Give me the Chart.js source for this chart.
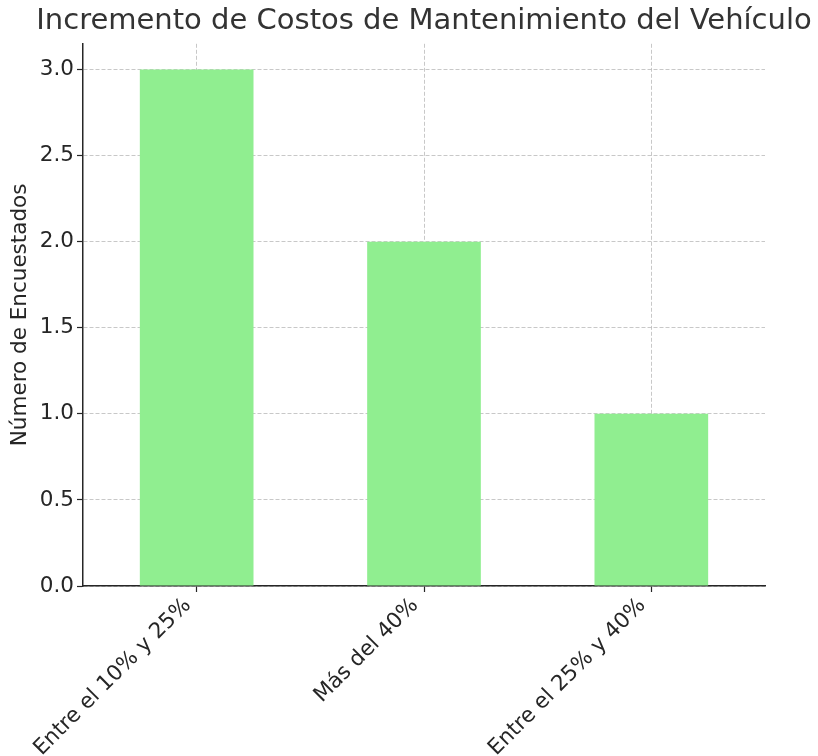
<!DOCTYPE html>
<html>
<head>
<meta charset="utf-8">
<script src="https://cdn.jsdelivr.net/npm/chart.js@4"></script>
<style>
  html, body { margin: 0; padding: 0; background: #fff; }
  #wrap { width: 818px; height: 756px; }
</style>
</head>
<body>
<div id="wrap"><canvas id="costChart" width="818" height="756"></canvas></div>
<script>
const categories = ['Entre el 10% y 25%', 'Más del 40%', 'Entre el 25% y 40%'];
const respondents = [3, 2, 1];
const yTicks = [0, 0.5, 1, 1.5, 2, 2.5, 3];

const gridColor = 'rgba(176,176,176,0.7)';
const textColor = '#262626';

// title is centred over the plot area but wider than it
const widenTitle = {
    id: 'widenTitle',
    afterLayout(chart) {
        const t = chart.titleBlock;
        if (t) { t.left -= 53; t.right += 53; }
    }
};

const ctx = document.getElementById('costChart').getContext('2d');
const costChart = new Chart(ctx, {
    type: 'bar',
    data: {
        labels: categories,
        datasets: [{
            label: 'Número de Encuestados',
            data: respondents,
            backgroundColor: '#90EE90',
            borderWidth: 0,
            barPercentage: 0.5,
            categoryPercentage: 1.0
        }]
    },
    options: {
        responsive: false,
        animation: false,
        layout: {
            padding: { left: 0, right: 53, top: 0, bottom: 0 }
        },
        plugins: {
            legend: { display: false },
            tooltip: { enabled: false },
            title: {
                display: true,
                text: 'Incremento de Costos de Mantenimiento del Vehículo',
                color: '#333333',
                fullSize: false,
                font: { family: 'DejaVu Sans', size: 29, weight: 'normal' },
                padding: { top: 4, bottom: 5 }
            }
        },
        scales: {
            x: {
                z: 1,
                offset: true,
                grid: {
                    offset: false,
                    color: gridColor,
                    tickColor: textColor,
                    tickBorderDash: [],
                    tickLength: 6,
                    tickWidth: 1.2
                },
                border: { display: true, color: textColor, width: 1.5, dash: [4, 2] },
                ticks: {
                    color: textColor,
                    font: { family: 'DejaVu Sans', size: 21.5 },
                    minRotation: 45,
                    maxRotation: 45,
                    padding: 1,
                    labelOffset: -9
                },
                afterFit: (axis) => { axis.height = 170; }
            },
            y: {
                z: 1,
                min: 0,
                max: 3.15,
                grid: {
                    color: gridColor,
                    tickColor: textColor,
                    tickBorderDash: [],
                    tickLength: 6,
                    tickWidth: 1.2
                },
                border: { display: true, color: textColor, width: 1.5, dash: [4, 2] },
                ticks: {
                    color: textColor,
                    font: { family: 'DejaVu Sans', size: 21.5 },
                    padding: 3,
                    callback: (v) => Number(v).toFixed(1)
                },
                afterBuildTicks: (axis) => {
                    axis.ticks = yTicks.map(v => ({ value: v }));
                },
                title: {
                    display: true,
                    text: 'Número de Encuestados',
                    color: textColor,
                    font: { family: 'DejaVu Sans', size: 21.5 },
                    padding: { top: 8, bottom: 4 }
                },
                afterFit: (axis) => { axis.width = 83; }
            }
        }
    },
    plugins: [widenTitle]
});
</script>
</body>
</html>
